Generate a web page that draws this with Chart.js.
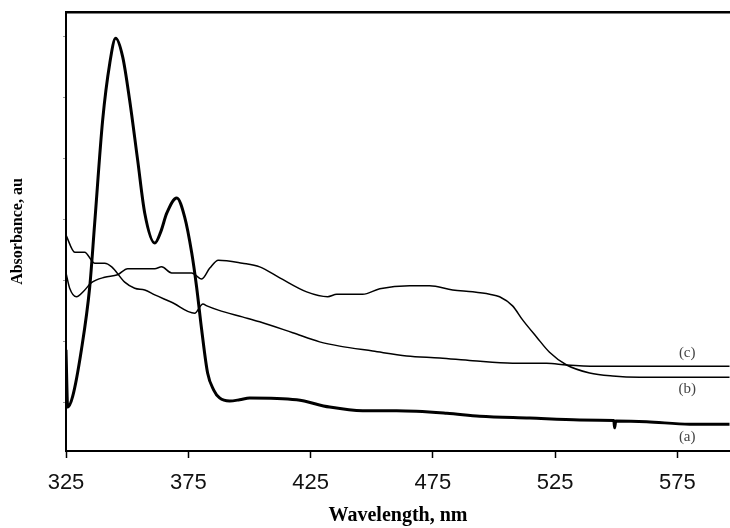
<!DOCTYPE html>
<html>
<head>
<meta charset="utf-8">
<script src="https://cdn.jsdelivr.net/npm/chart.js@4"></script>
<style>
  body { margin: 0; background: #fff; }
  #chart { display: block; }
</style>
</head>
<body>
<canvas id="chart" width="730" height="528"></canvas>
<script>
// spectrum (a) - thick curve
const wavelengthA = [325, 325.7, 327.7, 331.3, 334.7, 336.7, 340.0, 342.9, 345.3, 348.2, 351.0, 354.3, 357.2, 361.3, 363.7, 366.2, 370.3, 373.5, 376.4, 378.4, 380.5, 382.9, 385.4, 387.8, 391.9, 396.0, 400.1, 419.3, 432.8, 446.3, 460.2, 480.7, 494.2, 514.6, 535.0, 549.0, 549.3, 549.8, 562.4, 580.0, 596.3];
const absorbanceA = [0.086, -0.008, 0.009, 0.086, 0.189, 0.292, 0.463, 0.556, 0.597, 0.566, 0.496, 0.397, 0.310, 0.261, 0.279, 0.310, 0.335, 0.304, 0.245, 0.189, 0.118, 0.048, 0.020, 0.007, 0.002, 0.004, 0.007, 0.004, -0.008, -0.014, -0.014, -0.018, -0.023, -0.026, -0.029, -0.030, -0.042, -0.031, -0.032, -0.036, -0.036];

// spectrum (b)
const wavelengthB = [325, 326.5, 329.3, 332.2, 335.4, 340.8, 346.1, 350.2, 361.3, 364.1, 368.2, 376.4, 380.5, 383.8, 387.3, 397.1, 404.2, 412.4, 423.4, 432.0, 435.7, 446.3, 453.3, 465.5, 473.7, 483.1, 491.3, 498.2, 502.3, 507.6, 511.7, 517.4, 522.7, 529.7, 539.1, 548.5, 559.5, 596.3];
const absorbanceB = [0.212, 0.187, 0.173, 0.182, 0.196, 0.205, 0.209, 0.219, 0.219, 0.222, 0.212, 0.212, 0.202, 0.220, 0.233, 0.228, 0.222, 0.204, 0.181, 0.173, 0.177, 0.177, 0.186, 0.191, 0.191, 0.184, 0.181, 0.177, 0.173, 0.158, 0.135, 0.107, 0.082, 0.061, 0.048, 0.043, 0.041, 0.041];

// spectrum (c)
const wavelengthC = [325, 328.6, 332.6, 336.7, 340.8, 343.7, 349.0, 353.1, 357.2, 361.3, 368.2, 377.6, 381.0, 382.6, 387.3, 397.1, 404.2, 417.7, 428.7, 436.9, 450.4, 464.3, 477.8, 491.3, 507.6, 521.5, 529.7, 541.9, 596.3];
const absorbanceC = [0.274, 0.246, 0.246, 0.228, 0.228, 0.222, 0.197, 0.187, 0.184, 0.176, 0.164, 0.146, 0.161, 0.158, 0.151, 0.140, 0.132, 0.114, 0.099, 0.092, 0.084, 0.076, 0.0725, 0.068, 0.064, 0.064, 0.061, 0.059, 0.059];

const xTicks = [325, 375, 425, 475, 525, 575];
const yTicks = [0, 0.1, 0.2, 0.3, 0.4, 0.5, 0.6];

const curveNames = ['(a)', '(b)', '(c)'];
const curveNameAbs = [-0.057, 0.022, 0.081];
const curveNameNm = 579;

function pairs(xs, ys) {
  return xs.map((x, i) => ({ x: x, y: ys[i] }));
}

// curve names next to the right end
const curveLabels = {
  id: 'curveLabels',
  afterDatasetsDraw(chart) {
    const ctx = chart.ctx;
    const xs = chart.scales.x, ys = chart.scales.y;
    ctx.save();
    ctx.font = '15px "Liberation Serif", serif';
    ctx.fillStyle = '#444';
    ctx.textAlign = 'center';
    ctx.textBaseline = 'middle';
    curveNames.forEach((name, i) => {
      ctx.fillText(name, xs.getPixelForValue(curveNameNm), ys.getPixelForValue(curveNameAbs[i]));
    });
    ctx.restore();
  }
};

const line = (data, width) => ({
  data: data,
  borderColor: '#000',
  borderWidth: width,
  pointRadius: 0,
  cubicInterpolationMode: 'monotone',
  fill: false
});

new Chart(document.getElementById('chart').getContext('2d'), {
  type: 'line',
  data: {
    datasets: [
      line(pairs(wavelengthA, absorbanceA), 3),
      line(pairs(wavelengthB, absorbanceB), 1.5),
      line(pairs(wavelengthC, absorbanceC), 1.5)
    ]
  },
  options: {
    responsive: false,
    animation: false,
    layout: { padding: 0 },
    plugins: { legend: { display: false }, tooltip: { enabled: false } },
    scales: {
      x: {
        type: 'linear',
        position: 'bottom',
        min: 325,
        max: 596.5,
        afterFit(axis) { axis.height = 77; },
        afterBuildTicks(axis) { axis.ticks = xTicks.map(v => ({ value: v })); },
        grid: { drawOnChartArea: false, drawTicks: true, tickLength: 7, tickColor: '#000', tickWidth: 1.5 },
        border: { color: '#000', width: 2 },
        ticks: {
          color: '#111',
          padding: 12,
          maxRotation: 0,
          font: { family: '"Liberation Sans", Arial, sans-serif', size: 22 }
        },
        title: {
          display: true,
          text: 'Wavelength, nm',
          color: '#000',
          padding: { top: 0, bottom: 0 },
          font: { family: '"Liberation Serif", serif', size: 20, weight: 'bold' }
        }
      },
      x2: {
        type: 'linear',
        position: 'top',
        min: 325,
        max: 596.5,
        afterFit(axis) { axis.height = 12; },
        grid: { display: false },
        ticks: { display: false },
        border: { display: true, color: '#000', width: 2.5 }
      },
      y: {
        min: -0.08,
        max: 0.64,
        afterFit(axis) { axis.width = 66; },
        afterBuildTicks(axis) { axis.ticks = yTicks.map(v => ({ value: v })); },
        grid: { drawOnChartArea: false, drawTicks: true, tickLength: 3, tickColor: '#999', tickWidth: 1 },
        border: { color: '#000', width: 2 },
        ticks: { display: false },
        title: {
          display: true,
          text: 'Absorbance, au',
          color: '#000',
          padding: { top: 8, bottom: 0 },
          font: { family: '"Liberation Serif", serif', size: 16, weight: 'bold' }
        }
      }
    }
  },
  plugins: [curveLabels]
});
</script>
</body>
</html>
